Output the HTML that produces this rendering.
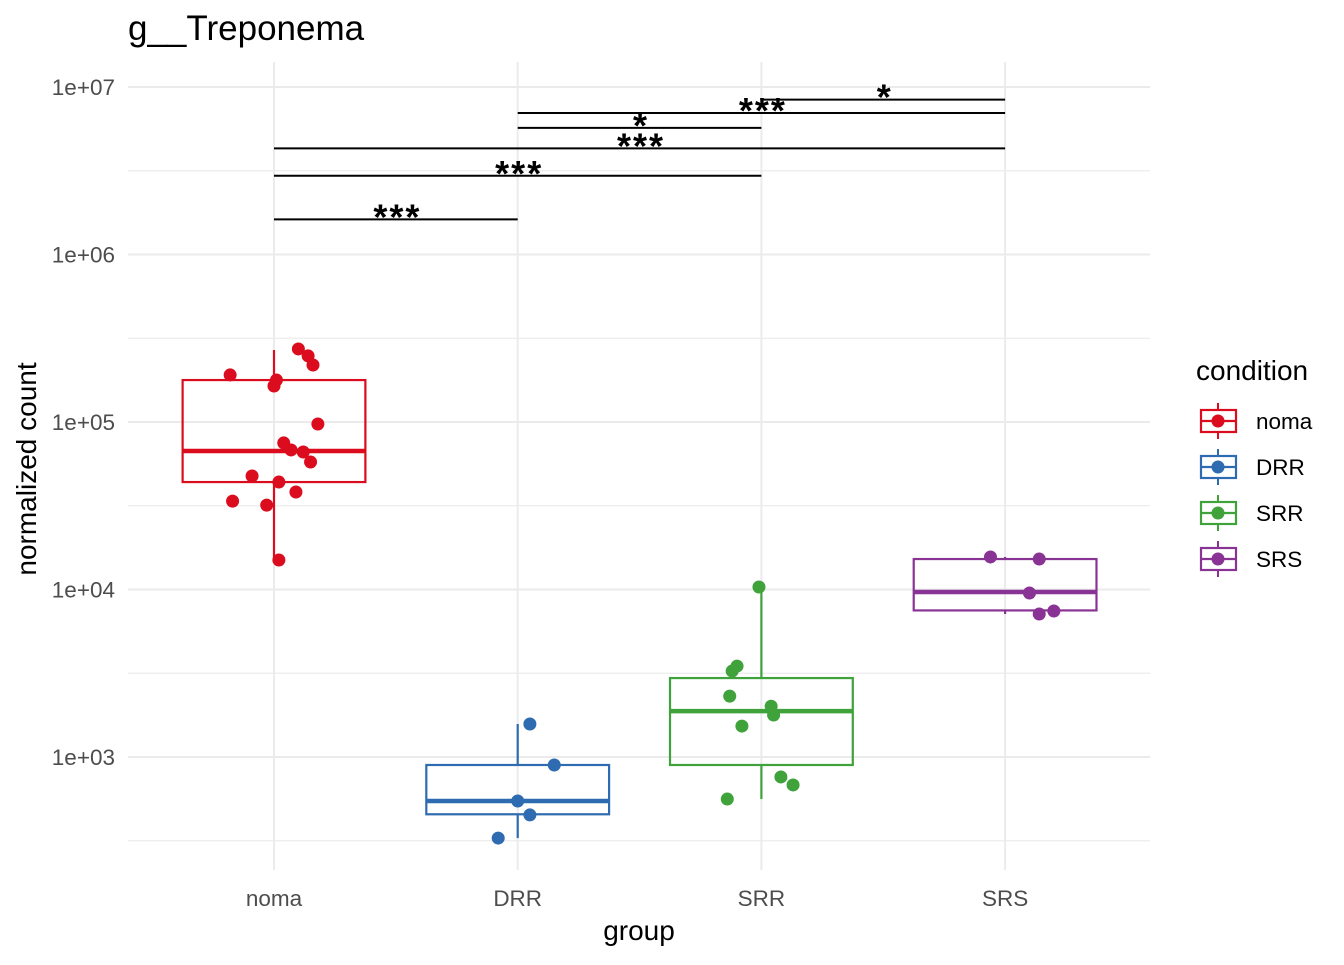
<!DOCTYPE html>
<html><head><meta charset="utf-8"><style>
body{margin:0;background:#fff}
svg{font-family:"Liberation Sans",Arial,sans-serif}
</style></head><body>
<svg id="chart" width="1344" height="960" viewBox="0 0 1344 960" xmlns="http://www.w3.org/2000/svg"></svg>
<script>
const categories=["noma","DRR","SRR","SRS"];
const colors=["#DA0C1E","#2E6BB0","#3FA23B","#893395"];
const yTicks=[1e3,1e4,1e5,1e6,1e7];
const yTickLabels=["1e+03","1e+04","1e+05","1e+06","1e+07"];
const pointsNoma=[273000,248000,219000,191000,178000,164000,97300,75000,68100,66200,57700,47600,43800,38200,33700,31900,15000];
const jitterNoma=[0.1,0.14,0.16,-0.18,0.01,0,0.18,0.04,0.07,0.12,0.15,-0.09,0.02,0.09,-0.17,-0.03,0.02];
const pointsDRR=[1574,896,546,451,328];
const jitterDRR=[0.05,0.15,0,0.05,-0.08];
const pointsSRR=[10350,3490,3260,2310,2010,1780,1530,760,681,561];
const jitterSRR=[-0.01,-0.1,-0.12,-0.13,0.04,0.05,-0.08,0.08,0.13,-0.14];
const pointsSRS=[15640,15200,9530,7440,7140];
const jitterSRS=[-0.06,0.14,0.1,0.2,0.14];
const boxLow=[15000,328,561,7140];
const boxQ1=[43800,455,896,7500];
const boxMed=[67100,546,1880,9660];
const boxQ3=[178000,896,2960,15200];
const boxHigh=[269000,1574,10350,15640];
const brFrom=[0,0,0,1,1,2];
const brTo=[1,2,3,2,3,3];
const brY=[1.62e6,2.95e6,4.3e6,5.7e6,7.0e6,8.4e6];
const brLab=["***","***","***","*","***","*"];

const svg=document.getElementById('chart');
const NS="http://www.w3.org/2000/svg";
const X0=128,X1=1150,Y0=62,Y1=870;
function x(i){return 274+i*243.7;}
function y(v){return 87+(7-Math.log10(v))*167.5;}
function mk(tag,attrs,parent){const e=document.createElementNS(NS,tag);for(const k in attrs)e.setAttribute(k,attrs[k]);(parent||svg).appendChild(e);return e;}

for(let d=2.5;d<=7;d+=0.5){
  const yy=y(Math.pow(10,d)); if(yy<Y0||yy>Y1) continue;
  const g=mk('line',{x1:X0,x2:X1,y1:yy,y2:yy,stroke:'#ebebeb','stroke-width':Number.isInteger(d)?2:1.2});
  
  
}
categories.forEach((c,i)=>{
  const g=mk('line',{x1:x(i),x2:x(i),y1:Y0,y2:Y1,stroke:'#ebebeb','stroke-width':2});
  
  
  const t=mk('text',{x:x(i),y:906,'text-anchor':'middle','font-size':22.5,fill:'#4d4d4d'});
  t.textContent=c;
  
  
});
yTicks.forEach((v,i)=>{
  const t=mk('text',{x:115,y:y(v)+8,'text-anchor':'end','font-size':22.5,fill:'#4d4d4d'});
  t.textContent=yTickLabels[i];
  
  
});

const allPts=[pointsNoma,pointsDRR,pointsSRR,pointsSRS];
const allJit=[jitterNoma,jitterDRR,jitterSRR,jitterSRS];
const hw=0.375*243.7;
categories.forEach((c,i)=>{
  const g=mk('g',{stroke:colors[i],fill:'none','stroke-width':2.2});
  
  
  mk('line',{x1:x(i),x2:x(i),y1:y(boxHigh[i]),y2:y(boxQ3[i])},g);
  mk('line',{x1:x(i),x2:x(i),y1:y(boxQ1[i]),y2:y(boxLow[i])},g);
  mk('rect',{x:x(i)-hw,y:y(boxQ3[i]),width:2*hw,height:y(boxQ1[i])-y(boxQ3[i])},g);
  mk('line',{x1:x(i)-hw,x2:x(i)+hw,y1:y(boxMed[i]),y2:y(boxMed[i]),'stroke-width':4.5},g);
  allPts[i].forEach((v,j)=>{
    const p=mk('circle',{cx:x(i)+allJit[i][j]*243.7,cy:y(v),r:6.5,fill:colors[i]});
    
    
  });
});

brFrom.forEach((a,k)=>{
  const yy=y(brY[k]);
  const l=mk('line',{x1:x(a),x2:x(brTo[k]),y1:yy,y2:yy,stroke:'#000','stroke-width':2});
  
  
  const t=mk('text',{x:(x(a)+x(brTo[k]))/2+1.5,y:yy+10,'text-anchor':'middle','font-size':36,'font-weight':'bold','letter-spacing':2,fill:'#000'});
  t.textContent=brLab[k];
  
  
});

let t=mk('text',{x:128,y:40,'font-size':35,fill:'#000'});t.textContent='g__Treponema';

t=mk('text',{x:639,y:940,'text-anchor':'middle','font-size':28,fill:'#000'});t.textContent='group';

t=mk('text',{x:0,y:0,'text-anchor':'middle','font-size':28,fill:'#000',transform:'translate(36,469) rotate(-90)'});t.textContent='normalized count';


t=mk('text',{x:1196,y:380,'font-size':28,fill:'#000'});t.textContent='condition';

categories.forEach((c,i)=>{
  const cy=421+i*46;
  const g=mk('g',{});
  
  
  mk('line',{x1:1218,x2:1218,y1:cy-18,y2:cy+18,stroke:colors[i],'stroke-width':2},g);
  mk('rect',{x:1201,y:cy-11,width:35,height:22,fill:'#fff',stroke:colors[i],'stroke-width':2.2},g);
  mk('line',{x1:1201,x2:1236,y1:cy,y2:cy,stroke:colors[i],'stroke-width':2.2},g);
  mk('circle',{cx:1218,cy:cy,r:6.5,fill:colors[i]},g);
  const tt=mk('text',{x:1256,y:cy+8,'font-size':22.5,fill:'#000'},g);tt.textContent=c;
});
</script>
</body></html>
